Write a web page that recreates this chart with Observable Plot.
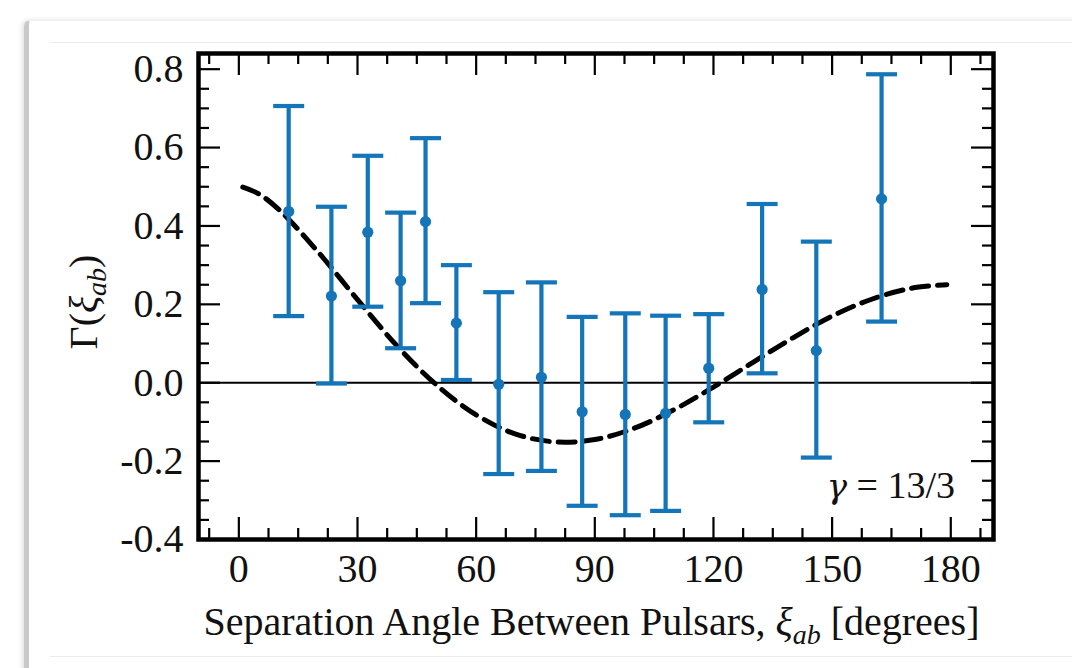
<!DOCTYPE html>
<html>
<head>
<meta charset="utf-8">
<script src="https://cdn.jsdelivr.net/npm/d3@7"></script>
<script src="https://cdn.jsdelivr.net/npm/@observablehq/plot@0.6"></script>
<style>
  html, body { margin: 0; padding: 0; background: #fff; }
  body { width: 1072px; height: 668px; overflow: hidden; position: relative; font-family: "Liberation Serif", "DejaVu Serif", serif; }
  #edge { position: absolute; left: 24px; top: 20px; width: 1100px; height: 700px; border-left: 5px solid #c9c9c9; border-top: 1px solid #f0f0f0; border-top-left-radius: 6px; box-shadow: -2px 0 5px rgba(0,0,0,0.12); }
  #topline { position: absolute; left: 50px; top: 42px; width: 1022px; height: 0; border-top: 1px solid #ececec; }
  #botline { position: absolute; left: 50px; top: 656px; width: 1022px; height: 0; border-top: 1px solid #ececec; }
  #chart { position: absolute; left: 0; top: 0; }
</style>
</head>
<body>
<div id="edge"></div>
<div id="topline"></div>
<div id="botline"></div>
<div id="chart"></div>
<script>
// ---- data ----
const angles  = [12.6, 23.4, 32.6, 40.9, 47.2, 55.0, 65.7, 76.5, 86.8, 97.7, 107.9, 118.8, 132.3, 146.0, 162.5];
const gammaAB = [0.437, 0.221, 0.384, 0.260, 0.411, 0.152, -0.004, 0.014, -0.074, -0.081, -0.078, 0.037, 0.238, 0.082, 0.469];
const errLow  = [0.170, -0.002, 0.194, 0.088, 0.203, 0.007, -0.233, -0.225, -0.314, -0.338, -0.327, -0.101, 0.024, -0.191, 0.156];
const errHigh = [0.706, 0.449, 0.579, 0.434, 0.624, 0.300, 0.231, 0.256, 0.168, 0.177, 0.171, 0.175, 0.456, 0.360, 0.787];

// dashed model curve
const curveAngles = [1, 5, 10, 20, 30, 40, 50, 60, 70, 80, 90, 100, 110, 120, 130, 140, 150, 160, 170, 179];
const curveValues = [0.499, 0.482, 0.443, 0.334, 0.212, 0.094, -0.006, -0.082, -0.131, -0.151, -0.145, -0.116, -0.069, -0.011, 0.052, 0.114, 0.170, 0.213, 0.241, 0.250];

const xTicks = [0, 30, 60, 90, 120, 150, 180];
const xTickLabels = ["0", "30", "60", "90", "120", "150", "180"];
const yTicks = [-0.4, -0.2, 0.0, 0.2, 0.4, 0.6, 0.8];
const yTickLabels = ["-0.4", "-0.2", "0.0", "0.2", "0.4", "0.6", "0.8"];
const xMinorTicks = [-7.5, 7.5, 15, 22.5, 37.5, 45, 52.5, 67.5, 75, 82.5, 97.5, 105, 112.5, 127.5, 135, 142.5, 157.5, 165, 172.5, 187.5];
const yMinorTicks = [-0.35, -0.3, -0.25, -0.15, -0.1, -0.05, 0.05, 0.1, 0.15, 0.25, 0.3, 0.35, 0.45, 0.5, 0.55, 0.65, 0.7, 0.75];

const xLabel = ["Separation Angle Between Pulsars, ", "ξ", "ab", " [degrees]"];
const yLabel = ["Γ(", "ξ", "ab", ")"];
const annotation = ["γ", " = 13/3"];

// ---- build tables ----
const points = angles.map((a, i) => ({x: a, y: gammaAB[i], lo: errLow[i], hi: errHigh[i]}));
const curve = curveAngles.map((a, i) => ({a, v: curveValues[i]}));

const W = 1072, H = 668;
const mL = 198, mR = 79, mT = 53, mB = 129;
const fw = W - mL - mR, fh = H - mT - mB;
const blue = "#1575b9";
const font = '"Liberation Serif", "DejaVu Serif", serif';

const capSymbol = {
  draw(context, size) {
    const r = Math.sqrt(size / Math.PI);
    context.moveTo(-r, 0);
    context.lineTo(r, 0);
  }
};

const majorLen = 22, minorLen = 11, tickW = 2.2;

const plot = Plot.plot({
  width: W, height: H,
  marginLeft: mL, marginRight: mR, marginTop: mT, marginBottom: mB,
  style: {fontFamily: font, background: "transparent", color: "#111"},
  x: {domain: [-10.2, 190.8]},
  y: {domain: [-0.4, 0.84]},
  marks: [
    Plot.ruleY([0], {stroke: "#000", strokeWidth: 2}),
    Plot.line(curve, {x: "a", y: "v", stroke: "#000", strokeWidth: 5, strokeDasharray: "17,9", curve: "catmull-rom"}),
    Plot.ruleX(points, {x: "x", y1: "lo", y2: "hi", stroke: blue, strokeWidth: 4.2}),
    Plot.dot(points, {x: "x", y: "lo", symbol: capSymbol, r: 15.5, fill: "none", stroke: blue, strokeWidth: 4.2}),
    Plot.dot(points, {x: "x", y: "hi", symbol: capSymbol, r: 15.5, fill: "none", stroke: blue, strokeWidth: 4.2}),
    Plot.dot(points, {x: "x", y: "y", r: 5.6, fill: blue, stroke: null}),
    // inward ticks: bottom / top
    Plot.tickX(xMinorTicks, {x: d => d, insetTop: fh - minorLen, stroke: "#000", strokeWidth: tickW}),
    Plot.tickX(xMinorTicks, {x: d => d, insetBottom: fh - minorLen, stroke: "#000", strokeWidth: tickW}),
    Plot.tickX(xTicks, {x: d => d, insetTop: fh - majorLen, stroke: "#000", strokeWidth: tickW}),
    Plot.tickX(xTicks, {x: d => d, insetBottom: fh - majorLen, stroke: "#000", strokeWidth: tickW}),
    // inward ticks: left / right
    Plot.tickY(yMinorTicks, {y: d => d, insetRight: fw - minorLen, stroke: "#000", strokeWidth: tickW}),
    Plot.tickY(yMinorTicks, {y: d => d, insetLeft: fw - minorLen, stroke: "#000", strokeWidth: tickW}),
    Plot.tickY(yTicks, {y: d => d, insetRight: fw - majorLen, stroke: "#000", strokeWidth: tickW}),
    Plot.tickY(yTicks, {y: d => d, insetLeft: fw - majorLen, stroke: "#000", strokeWidth: tickW}),
    Plot.axisX(xTicks, {tickSize: 0, tickPadding: 14, fontSize: 40, tickFormat: (d, i) => xTickLabels[i], label: null, fill: "#111"}),
    Plot.axisY(yTicks, {tickSize: 0, tickPadding: 15, fontSize: 40, tickFormat: (d, i) => yTickLabels[i], label: null, fill: "#111"}),
    Plot.frame({stroke: "#000", strokeWidth: 4.5})
  ]
});

document.getElementById("chart").appendChild(plot);

// rich-text labels (italic symbols and subscripts)
const svg = d3.select(plot);
function richText(sel, parts, size) {
  sel.append("tspan").text(parts[0]);
  sel.append("tspan").attr("font-style", "italic").text(parts[1]);
  sel.append("tspan").attr("font-style", "italic").attr("font-size", size * 0.7).attr("dy", size * 0.22).text(parts[2]);
  sel.append("tspan").attr("dy", -size * 0.22).text(parts[3]);
}
const xl = svg.append("text")
  .attr("x", mL + fw / 2 - 4).attr("y", 635)
  .attr("text-anchor", "middle").attr("font-size", 40).attr("font-family", font).attr("fill", "#111");
richText(xl, xLabel, 40);

const yl = svg.append("text")
  .attr("transform", `translate(97,${mT + fh / 2 + 6}) rotate(-90)`)
  .attr("text-anchor", "middle").attr("font-size", 40).attr("font-family", font).attr("fill", "#111");
richText(yl, yLabel, 40);

const ann = svg.append("text")
  .attr("x", mL + fw - 38).attr("y", mT + fh - 41)
  .attr("text-anchor", "end").attr("font-size", 38).attr("font-family", font).attr("fill", "#111");
ann.append("tspan").attr("font-style", "italic").attr("font-family", '"DejaVu Serif", serif').attr("font-size", 34).text(annotation[0]);
ann.append("tspan").text(annotation[1]);
</script>
</body>
</html>
